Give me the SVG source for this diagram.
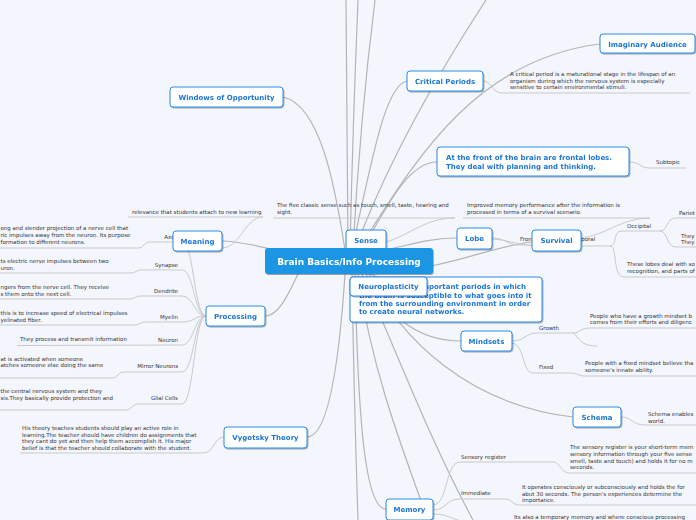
<svg xmlns="http://www.w3.org/2000/svg" width="696" height="520" viewBox="0 0 696 520">
<defs>
<filter id="sh" x="-10%" y="-15%" width="125%" height="150%"><feDropShadow dx="0.8" dy="1" stdDeviation="0.7" flood-color="#000" flood-opacity="0.35"/></filter>
<style>
.c{fill:none;stroke:#b4b4b4;stroke-width:1.2}
.s{fill:none;stroke:#c9c9c9;stroke-width:1}
.n{fill:#fff;stroke:#2d8ae5;stroke-width:1}
.nt{font-family:"DejaVu Sans",Verdana,sans-serif;font-weight:bold;font-size:7px;fill:#1b76d8}
.ct{font-family:"DejaVu Sans",Verdana,sans-serif;font-weight:bold;font-size:9px;fill:#fff}
.t{font-family:"DejaVu Sans",Verdana,sans-serif;font-size:5.5px;fill:#333}
</style>
</defs>
<rect x="0" y="0" width="696" height="520" fill="#f3f6fd"/>
<g id="connectors">
<path class="c" d="M345 250 C335 185 320 105 283 97"/>
<path class="c" d="M348 250 Q347 120 346 0"/>
<path class="c" d="M350 250 Q353 120 358 0"/>
<path class="c" d="M353 250 Q360 120 375 0"/>
<path class="c" d="M355 250 Q395 140 486 0"/>
<path class="c" d="M352 250 C372 160 385 85 407 81"/>
<path class="c" d="M358 250 C410 170 470 60 600 44"/>
<path class="c" d="M362 250 C390 200 410 162 437 162"/>
<path class="c" d="M300 255 C270 250 245 241 222 241"/>
<path class="c" d="M385 250 C410 245 430 238 457 238"/>
<path class="c" d="M420 268 C460 262 500 245 532 242"/>
<path class="c" d="M300 270 C290 290 280 316 265 316"/>
<path class="c" d="M345 274 C340 350 330 437 307 437"/>
<path class="c" d="M352 274 Q354 400 358 520"/>
<path class="c" d="M355 274 C358 420 365 509 386 509"/>
<path class="c" d="M358 274 C370 360 395 430 428 520"/>
<path class="c" d="M362 274 C400 360 430 440 473 520"/>
<path class="c" d="M365 272 C390 320 420 341 461 341"/>
<path class="c" d="M368 272 C400 340 470 405 573 417"/>
<path class="c" d="M370 274 L385 280"/>
<path class="s" d="M386 242 C410 235 425 218 455 218"/>
<path class="s" d="M273 218 L455 218"/>
<path class="s" d="M222 248 C240 248 245 217 263 217 L128 217"/>
<path class="s" d="M581 238 C605 236 620 218 650 218 L463 218"/>
<path class="s" d="M483 81 C492 81 492 93 502 93 L690 93"/>
<path class="s" d="M629 162 C640 162 640 168 650 168 L686 168"/>
<path class="s" d="M492 238 C505 238 508 245 518 245 L560 245"/>
<path class="s" d="M492 239 C510 240 520 246 540 246 L610 246"/>
<path class="s" d="M610 246 C618 246 612 231 622 231 L660 231"/>
<path class="s" d="M610 246 C618 246 612 277 624 277 L696 277"/>
<path class="s" d="M660 231 C668 231 666 218 676 218 L696 218"/>
<path class="s" d="M660 231 C668 231 666 247 676 247 L696 247"/>
<path class="s" d="M206 316 C194 316 194 242 182 242 L150 242 C144 242 144 248 138 248 L0 248"/>
<path class="s" d="M206 316 C194 316 194 270 182 270 L142 270 C136 270 136 273 130 273 L0 273"/>
<path class="s" d="M206 316 C194 316 194 296 182 296 L141 296 C135 296 135 299 129 299 L0 299"/>
<path class="s" d="M206 316 C194 316 194 322 182 322 L146 322 C140 322 140 325 134 325 L0 325"/>
<path class="s" d="M206 316 C194 316 194 345 182 345 L17 345.5"/>
<path class="s" d="M206 316 C194 316 194 372 182 372 L124 372 C118 372 118 378 112 378 L0 378"/>
<path class="s" d="M206 316 C194 316 194 404 182 404 L138 404 C132 404 132 410 126 410 L0 410"/>
<path class="s" d="M224 437 C214 437 214 453 203 453 L20 453"/>
<path class="s" d="M512 341 C525 341 525 333 537 333 L573 333 C580 333 580 328 590 328 L696 328"/>
<path class="s" d="M573 333 C578 335 578 346 597 346"/>
<path class="s" d="M512 343 C525 345 522 373 533 373 L570 373 C578 373 578 376 585 376 L696 376"/>
<path class="s" d="M621 417 C632 417 632 425 645 425 L696 425"/>
<path class="s" d="M433 505 C448 505 445 462 460 462 L553 462 C561 462 560 473 570 473 L696 473"/>
<path class="s" d="M433 510 C447 510 445 499 460 499 L505 499 C512 499 512 505 520 505 L696 505"/>
<path class="s" d="M433 514 C450 514 455 522 470 522"/>
</g>
<g id="texts">
<text class="t" x="132" y="214">relevance that students attach to new learning</text>
<text class="t" x="277" y="207">The five classic sense such as touch, smell, taste, hearing and</text>
<text class="t" x="277" y="214">sight.</text>
<text class="t" x="467" y="207">Improved memory performance after the information is</text>
<text class="t" x="467" y="214">processed in terms of a survival scenario.</text>
<text class="t" x="510" y="76">A critical period is a maturational stage in the lifespan of an</text>
<text class="t" x="510" y="82.5">organism during which the nervous system is especially</text>
<text class="t" x="510" y="89">sensitive to certain environmental stimuli.</text>
<text class="t" x="656" y="164">Subtopic</text>
<text class="t" x="627" y="228">Occipital</text>
<text class="t" x="520" y="241">Frontal</text>
<text class="t" x="570" y="241">Temporal</text>
<text class="t" x="679" y="215">Pariet</text>
<text class="t" x="681" y="238">They</text>
<text class="t" x="681" y="244">They</text>
<text class="t" x="627" y="266">These lobes deal with so</text>
<text class="t" x="627" y="273">recognition, and parts of</text>
<text class="t" x="539" y="330">Growth</text>
<text class="t" x="590" y="318">People who have a growth mindset b</text>
<text class="t" x="590" y="324">comes from their efforts and diligenc</text>
<text class="t" x="539" y="369">Fixed</text>
<text class="t" x="585" y="365">People with a fixed mindset believe tha</text>
<text class="t" x="585" y="372">someone's innate ability.</text>
<text class="t" x="648" y="416">Schema enables</text>
<text class="t" x="648" y="423">world.</text>
<text class="t" x="461" y="459">Sensory register</text>
<text class="t" x="570" y="449">The sensory register is your short-term mem</text>
<text class="t" x="570" y="456">sensory information through your five sense</text>
<text class="t" x="570" y="463">smell, taste and touch) and holds it for no m</text>
<text class="t" x="570" y="469">seconds.</text>
<text class="t" x="461" y="495">Immediate</text>
<text class="t" x="522" y="489">It operates consciously or subconsciously and holds the for</text>
<text class="t" x="522" y="495.5">abut 30 seconds. The person's experiences determine the</text>
<text class="t" x="522" y="502">importance.</text>
<text class="t" x="514" y="518.5">Its also a temporary memory and where conscious processing</text>
<text class="t" x="178" y="239" text-anchor="end">Axon</text>
<text class="t" x="0.5" y="230">ong and slender projection of a nerve cell that</text>
<text class="t" x="0.5" y="237">ric impulses away from the neuron. Its purpose</text>
<text class="t" x="0.5" y="244">formation to different neurons.</text>
<text class="t" x="178" y="267" text-anchor="end">Synapse</text>
<text class="t" x="0.5" y="263">ts electric nerve impulses between two</text>
<text class="t" x="0.5" y="270">uron.</text>
<text class="t" x="178" y="293" text-anchor="end">Dendrite</text>
<text class="t" x="0.5" y="289">ngers from the nerve cell. They receive</text>
<text class="t" x="0.5" y="296">s them onto the next cell.</text>
<text class="t" x="178" y="319" text-anchor="end">Myelin</text>
<text class="t" x="0.5" y="315">this is to increase speed of electrical impulses</text>
<text class="t" x="0.5" y="322">yelinated fiber.</text>
<text class="t" x="178" y="342" text-anchor="end">Neuron</text>
<text class="t" x="20" y="341">They process and transmit information</text>
<text class="t" x="178" y="368" text-anchor="end">Mirror Neurons</text>
<text class="t" x="0.5" y="361">at is activated when someone</text>
<text class="t" x="0.5" y="367">atches someone else doing the same</text>
<text class="t" x="178" y="400" text-anchor="end">Glial Cells</text>
<text class="t" x="0.5" y="393">the central nervous system and they</text>
<text class="t" x="0.5" y="400">sis.They basically provide protection and</text>
<text class="t" x="22" y="430">His theory teaches students should play an active role in</text>
<text class="t" x="22" y="436.5">learning.The teacher should have children do assignments that</text>
<text class="t" x="22" y="443">they cant do yet and then help them accomplish it. His major</text>
<text class="t" x="22" y="449.5">belief is that the teacher should collaborate with the student.</text>
</g>
<g id="windows" filter="url(#sh)"><rect class="n" x="170" y="87" width="113" height="20" rx="3"/><text class="nt" x="226.5" y="100" text-anchor="middle">Windows of Opportunity</text></g>
<g id="critical" filter="url(#sh)"><rect class="n" x="407" y="71" width="76" height="20" rx="3"/><text class="nt" x="445" y="84" text-anchor="middle">Critical Periods</text></g>
<g id="imaginary" filter="url(#sh)"><rect class="n" x="600" y="34" width="95" height="19" rx="3"/><text class="nt" x="647.5" y="46.5" text-anchor="middle">Imaginary Audience</text></g>
<g id="front" filter="url(#sh)"><rect class="n" x="437" y="147" width="192" height="29" rx="3"/><text class="nt" x="446" y="160">At the front of the brain are frontal lobes.</text><text class="nt" x="446" y="169">They deal with planning and thinking.</text></g>
<g id="sense" filter="url(#sh)"><rect class="n" x="346" y="230" width="40" height="20" rx="3"/><text class="nt" x="366" y="243" text-anchor="middle">Sense</text></g>
<g id="meaning" filter="url(#sh)"><rect class="n" x="173" y="231" width="49" height="20" rx="3"/><text class="nt" x="197.5" y="243.5" text-anchor="middle">Meaning</text></g>
<g id="lobe" filter="url(#sh)"><rect class="n" x="457" y="228" width="35" height="21" rx="3"/><text class="nt" x="474.5" y="241" text-anchor="middle">Lobe</text></g>
<g id="survival" filter="url(#sh)"><rect class="n" x="532" y="230" width="49" height="21" rx="3"/><text class="nt" x="556.5" y="243" text-anchor="middle">Survival</text></g>
<g id="central" filter="url(#sh)"><rect x="265" y="248" width="168" height="26" rx="3" fill="#1c95e5"/><text class="ct" x="349" y="264.5" text-anchor="middle">Brain Basics/Info Processing</text></g>
<g id="periods-box" filter="url(#sh)"><rect class="n" x="350" y="277" width="192" height="45" rx="3"/><text class="nt" x="526" y="289" text-anchor="end">important periods in which</text><text class="nt" x="359" y="297.5">the brain is susceptible to what goes into it</text><text class="nt" x="359" y="306">from the surrounding environment in order</text><text class="nt" x="359" y="314">to create neural networks.</text></g>
<g id="neuroplasticity" filter="url(#sh)"><rect class="n" x="350" y="277" width="77" height="19" rx="3"/><text class="nt" x="388.5" y="289" text-anchor="middle">Neuroplasticity</text></g>
<g id="processing" filter="url(#sh)"><rect class="n" x="206" y="306" width="59" height="20" rx="3"/><text class="nt" x="235.5" y="319" text-anchor="middle">Processing</text></g>
<g id="mindsets" filter="url(#sh)"><rect class="n" x="461" y="331" width="51" height="20" rx="3"/><text class="nt" x="486.5" y="343.5" text-anchor="middle">Mindsets</text></g>
<g id="schema" filter="url(#sh)"><rect class="n" x="573" y="407" width="48" height="20" rx="3"/><text class="nt" x="597" y="420" text-anchor="middle">Schema</text></g>
<g id="vygotsky" filter="url(#sh)"><rect class="n" x="224" y="427" width="83" height="21" rx="3"/><text class="nt" x="265.5" y="440" text-anchor="middle">Vygotsky Theory</text></g>
<g id="memory" filter="url(#sh)"><rect class="n" x="386" y="499" width="47" height="21" rx="3"/><text class="nt" x="409.5" y="512" text-anchor="middle">Memory</text></g>
</svg>
